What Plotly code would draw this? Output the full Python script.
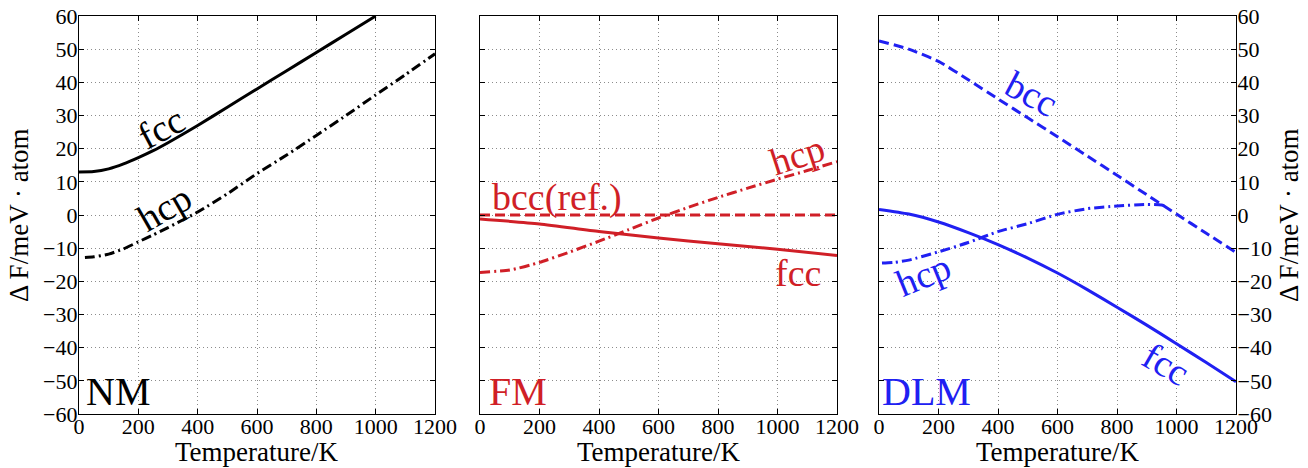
import plotly.graph_objects as go

# ---------------- data ----------------
T_nm_fcc = [0, 50, 100, 150, 200, 250, 300, 400, 500, 600, 700, 800, 900, 1000]
F_nm_fcc = [13.0, 13.1, 13.9, 15.4, 17.3, 19.4, 21.8, 27.0, 32.5, 38.0, 43.5, 49.0, 54.5, 60.0]

T_nm_hcp = [20, 50, 100, 150, 200, 250, 300, 400, 500, 600, 700, 800, 900, 1000, 1100, 1200]
F_nm_hcp = [-12.8, -12.6, -11.8, -10.2, -8.1, -6.0, -3.8, 0.9, 6.4, 12.5, 18.1, 24.0, 30.0, 36.2, 42.3, 48.6]

T_fm_bcc = [0, 1200]
F_fm_bcc = [0.0, 0.0]

T_fm_fcc = [0, 200, 400, 600, 800, 1000, 1200]
F_fm_fcc = [-1.2, -2.7, -5.0, -6.9, -8.7, -10.3, -12.2]

T_fm_hcp = [0, 100, 200, 300, 400, 500, 600, 700, 800, 900, 1000, 1100, 1200]
F_fm_hcp = [-17.3, -16.6, -14.3, -11.2, -7.9, -4.4, -0.9, 2.3, 5.3, 8.1, 10.8, 13.4, 16.1]

T_dlm_bcc = [0, 100, 200, 300, 400, 500, 600, 700, 800, 900, 1000, 1100, 1200]
F_dlm_bcc = [52.5, 50.0, 46.3, 40.8, 35.0, 29.3, 23.6, 17.8, 12.0, 6.1, 0.3, -5.5, -11.3]

T_dlm_hcp = [10, 50, 100, 200, 300, 400, 500, 600, 700, 800, 900, 950, 965]
F_dlm_hcp = [-14.5, -14.3, -13.6, -11.1, -8.3, -5.0, -2.6, 0.2, 1.9, 2.7, 3.2, 3.0, 2.6]

T_dlm_fcc = [0, 100, 200, 300, 400, 500, 600, 700, 800, 900, 1000, 1100, 1200]
F_dlm_fcc = [1.7, 0.3, -2.1, -5.3, -8.9, -13.0, -17.5, -22.5, -27.8, -33.2, -38.8, -44.5, -50.3]

x_ticks = [0, 200, 400, 600, 800, 1000, 1200]
y_ticks = [-60, -50, -40, -30, -20, -10, 0, 10, 20, 30, 40, 50, 60]

# ---------------- style ----------------
BLACK = "#000000"
RED = "#d01f27"
BLUE = "#2020f2"
FONT = "Liberation Serif"
DASH = "10px,5px"
DASHDOT = "10px,4px,2px,4px"
LW = 3

fig = go.Figure()

def add(T, F, color, dash, xa, ya):
    fig.add_trace(go.Scatter(x=T, y=F, mode="lines",
                             line=dict(color=color, width=LW, dash=dash, shape="spline", smoothing=0.6),
                             xaxis=xa, yaxis=ya, showlegend=False, hoverinfo="skip"))

add(T_nm_fcc, F_nm_fcc, BLACK, "solid", "x", "y")
add(T_nm_hcp, F_nm_hcp, BLACK, DASHDOT, "x", "y")
add(T_fm_bcc, F_fm_bcc, RED, DASH, "x2", "y2")
add(T_fm_fcc, F_fm_fcc, RED, "solid", "x2", "y2")
add(T_fm_hcp, F_fm_hcp, RED, DASHDOT, "x2", "y2")
add(T_dlm_bcc, F_dlm_bcc, BLUE, DASH, "x3", "y3")
add(T_dlm_hcp, F_dlm_hcp, BLUE, DASHDOT, "x3", "y3")
add(T_dlm_fcc, F_dlm_fcc, BLUE, "solid", "x3", "y3")

W = 1157.0
doms = [[0, 356 / W], [(480 - 79) / W, (837 - 79) / W], [(879 - 79) / W, 1.0]]

GRID = dict(showgrid=True, gridcolor="#8c8c8c", griddash="1px,3px", gridwidth=1)
xcommon = dict(range=[0, 1200], tickvals=x_ticks, zeroline=False, showline=True, linecolor="black",
               linewidth=1.2, mirror="ticks", ticks="inside", ticklen=5, tickcolor="black",
               tickfont=dict(family=FONT, size=22, color="black"), fixedrange=True,
               automargin=False, ticklabelstandoff=-8, **GRID)
ycommon = dict(range=[-60, 60], tickvals=y_ticks, zeroline=False, showline=True, linecolor="black",
               linewidth=1.2, mirror="ticks", ticks="inside", ticklen=5, tickcolor="black",
               tickfont=dict(family=FONT, size=22, color="black"), fixedrange=True,
               automargin=False, ticklabelstandoff=-4, **GRID)

layout = dict(
    width=1308, height=468,
    margin=dict(l=79, r=72, t=16, b=54),
    paper_bgcolor="white", plot_bgcolor="white",
    font=dict(family=FONT, color="black"),
)
layout["xaxis"] = dict(xcommon, domain=doms[0], anchor="y")
layout["xaxis2"] = dict(xcommon, domain=doms[1], anchor="y2")
layout["xaxis3"] = dict(xcommon, domain=doms[2], anchor="y3")
layout["yaxis"] = dict(ycommon, domain=[0, 1], anchor="x")
layout["yaxis2"] = dict(ycommon, domain=[0, 1], anchor="x2", showticklabels=False)
layout["yaxis3"] = dict(ycommon, domain=[0, 1], anchor="x3", side="right")
fig.update_layout(**layout)

ann = []
def label(text, x, y, xr, yr, color, size=38, angle=0):
    ann.append(dict(text=text, x=x, y=y, xref=xr, yref=yr, showarrow=False,
                    textangle=angle, font=dict(family=FONT, size=size, color=color),
                    xanchor="center", yanchor="middle"))

label("fcc", 276, 26.2, "x", "y", BLACK, angle=-28)
label("hcp", 287, 2.1, "x", "y", BLACK, angle=-30)
label("NM", 131, -53.1, "x", "y", BLACK, size=40)

label("bcc(ref.)", 259, 5.4, "x2", "y2", RED)
label("hcp", 1066, 18.0, "x2", "y2", RED, angle=-18)
label("fcc", 1069, -17.5, "x2", "y2", RED)
label("FM", 128, -53.1, "x2", "y2", RED, size=40)

label("bcc", 514, 36.4, "x3", "y3", BLUE, angle=28)
label("hcp", 148, -18.1, "x3", "y3", BLUE, angle=-22)
label("fcc", 965, -44.9, "x3", "y3", BLUE, angle=30)
label("DLM", 161, -53.1, "x3", "y3", BLUE, size=40)

for d in doms:
    ann.append(dict(text="Temperature/K", x=(d[0] + d[1]) / 2, y=(414 - 452) / 398.0,
                    xref="paper", yref="paper", showarrow=False,
                    font=dict(family=FONT, size=27, color="black"),
                    xanchor="center", yanchor="middle"))

ytitle = "Δ F/meV · atom"
ann.append(dict(text=ytitle, x=(19 - 79) / W, y=0.5, xref="paper", yref="paper",
                showarrow=False, textangle=-90, font=dict(family=FONT, size=27, color="black"),
                xanchor="center", yanchor="middle"))
ann.append(dict(text=ytitle, x=(1289 - 79) / W, y=0.5, xref="paper", yref="paper",
                showarrow=False, textangle=-90, font=dict(family=FONT, size=27, color="black"),
                xanchor="center", yanchor="middle"))

fig.update_layout(annotations=ann)
fig.write_html("out.html", config={"displayModeBar": False},
               post_script="document.body.style.margin='0px';document.body.style.padding='0px';")
